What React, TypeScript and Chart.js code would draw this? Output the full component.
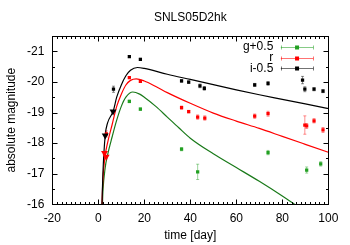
import { useEffect, useRef } from 'react';
import { Chart, registerables } from 'chart.js';

Chart.register(...registerables);

const chartTitle = 'SNLS05D2hk';
const xTitle = 'time [day]';
const yTitle = 'absolute magnitude';
const xTicks = [-20, 0, 20, 40, 60, 80, 100];
const yTicks = [-21, -20, -19, -18, -17, -16];
const legendLabels = ['g+0.5', 'r', 'i-0.5'];

// i-0.5 band (black)
const iDays = [6.6, 13.5, 18.3, 36.2, 39.3, 44.2, 46.1, 68.0, 73.8, 88.8, 89.8, 93.8, 97.7];
const iMag = [-19.76, -20.83, -20.74, -20.03, -19.99, -19.87, -19.79, -19.9, -19.95, -20.06, -19.76, -19.76, -19.7];
const iErr = [0.1, 0.03, 0.03, 0.04, 0.04, 0.06, 0.06, 0.05, 0.06, 0.12, 0.08, 0.05, 0.05];
const iLimDays = [3.0, 6.4];
const iLimMag = [-18.25, -19.03];

// r band (red)
const rDays = [3.5, 13.5, 18.3, 36.2, 39.3, 43.2, 46.3, 68.0, 73.8, 89.8, 90.6, 93.8, 97.7];
const rMag = [-18.3, -20.14, -20.02, -19.16, -19.03, -18.85, -18.82, -18.88, -18.96, -18.59, -18.56, -18.73, -18.43];
const rErr = [0.1, 0.03, 0.03, 0.05, 0.04, 0.07, 0.07, 0.07, 0.08, 0.3, 0.08, 0.07, 0.08];
const rLimDays = [2.7, 3.4];
const rLimMag = [-17.68, -17.55];

// g+0.5 band (green)
const gDays = [13.5, 18.3, 36.2, 43.2, 73.8, 90.6, 96.7];
const gMag = [-19.36, -19.11, -17.8, -17.06, -17.69, -17.12, -17.32];
const gErr = [0.04, 0.04, 0.05, 0.25, 0.07, 0.1, 0.07];

// model curves
const iModelDays = [1.6, 2.0, 3.0, 4.0, 6.5, 8, 10, 12, 14, 17, 20, 30, 40, 50, 60, 70, 80, 90, 100];
const iModelMag = [-16.0, -17.0, -18.25, -18.65, -19.05, -19.5, -19.9, -20.2, -20.38, -20.47, -20.44, -20.25, -20.08, -19.91, -19.74, -19.58, -19.43, -19.28, -19.13];
const rModelDays = [1.6, 2.0, 3.0, 4.0, 6, 8, 10, 12, 14, 16.5, 20, 25, 30, 40, 50, 60, 70, 80, 90, 100];
const rModelMag = [-16.0, -16.8, -17.6, -18.0, -18.6, -19.2, -19.6, -19.9, -20.05, -20.1, -20.03, -19.85, -19.65, -19.3, -18.98, -18.72, -18.48, -18.22, -17.96, -17.7];
const gModelDays = [1.8, 2.0, 3.0, 4.0, 6, 8, 10, 12, 15, 18, 20, 25, 30, 35, 40, 50, 60, 70, 80, 85.3];
const gModelMag = [-16.0, -16.4, -17.2, -17.6, -18.2, -18.75, -19.2, -19.5, -19.67, -19.6, -19.5, -19.2, -18.85, -18.5, -18.16, -17.65, -17.2, -16.75, -16.27, -16.0];

const BLACK = '#000000';
const RED = '#ff0000';
const GREEN_PT = '#22a022';
const GREEN_LINE = '#1a7a1a';
const BLACK_ERR = 'rgba(0,0,0,0.45)';
const RED_ERR = 'rgba(255,0,0,0.45)';
const GREEN_ERR = 'rgba(34,160,34,0.45)';

const FONT = '"Liberation Sans", Arial, sans-serif';

const zip = (xs: number[], ys: number[]) => xs.map((x, i) => ({ x, y: ys[i] }));

const errorBarPlugin = {
  id: 'errbars',
  beforeDatasetsDraw(chart: any) {
    const ctx = chart.ctx;
    const ys = chart.scales.y;
    const area = chart.chartArea;
    ctx.save();
    ctx.beginPath();
    ctx.rect(area.left, area.top, area.right - area.left, area.bottom - area.top);
    ctx.clip();
    chart.data.datasets.forEach((ds: any, di: number) => {
      if (!ds.errs) return;
      const meta = chart.getDatasetMeta(di);
      ctx.strokeStyle = ds.errColor;
      ctx.lineWidth = 1;
      meta.data.forEach((pt: any, i: number) => {
        const v = ds.data[i].y;
        const e = ds.errs[i];
        const y1 = ys.getPixelForValue(v - e);
        const y2 = ys.getPixelForValue(v + e);
        ctx.beginPath();
        ctx.moveTo(pt.x, y1);
        ctx.lineTo(pt.x, y2);
        ctx.moveTo(pt.x - 1.5, y1);
        ctx.lineTo(pt.x + 1.5, y1);
        ctx.moveTo(pt.x - 1.5, y2);
        ctx.lineTo(pt.x + 1.5, y2);
        ctx.stroke();
      });
    });
    ctx.restore();
  },
};

const framePlugin = {
  id: 'frame',
  afterDraw(chart: any) {
    const ctx = chart.ctx;
    const a = chart.chartArea;
    const xs = chart.scales.x;
    const ys = chart.scales.y;
    ctx.save();
    ctx.strokeStyle = '#000';
    ctx.lineWidth = 1;
    const L = Math.round(a.left) + 0.5;
    const R = Math.round(a.right) + 0.5;
    const T = Math.round(a.top) + 0.5;
    const B = Math.round(a.bottom) + 0.5;
    ctx.strokeRect(L, T, R - L, B - T);
    ctx.beginPath();
    for (let v = xs.min; v <= xs.max + 1e-6; v += 2) {
      const px = Math.round(xs.getPixelForValue(v)) + 0.5;
      const major = Math.abs(v % 20) < 1e-6;
      const len = major ? 5 : 2.5;
      ctx.moveTo(px, B);
      ctx.lineTo(px, B - len);
      ctx.moveTo(px, T);
      ctx.lineTo(px, T + len);
    }
    for (let v = -21.5; v <= -16 + 1e-6; v += 0.5) {
      const py = Math.round(ys.getPixelForValue(v)) + 0.5;
      const major = Math.abs(v - Math.round(v)) < 1e-6;
      const len = major ? 5 : 2.5;
      ctx.moveTo(L, py);
      ctx.lineTo(L + len, py);
      ctx.moveTo(R, py);
      ctx.lineTo(R - len, py);
    }
    ctx.stroke();

    ctx.fillStyle = '#000';
    ctx.textAlign = 'center';
    ctx.textBaseline = 'middle';
    ctx.font = `12px ${FONT}`;
    ctx.fillText(chartTitle, (a.left + a.right) / 2, 18);
    ctx.fillText(xTitle, (a.left + a.right) / 2, 236);
    ctx.save();
    ctx.translate(12, (a.top + a.bottom) / 2);
    ctx.rotate(-Math.PI / 2);
    ctx.fillText(yTitle, 0, 0);
    ctx.restore();

    const entries = [
      { label: legendLabels[0], pt: GREEN_PT, err: 'rgba(34,160,34,0.55)' },
      { label: legendLabels[1], pt: RED, err: 'rgba(255,0,0,0.55)' },
      { label: legendLabels[2], pt: BLACK, err: 'rgba(0,0,0,0.55)' },
    ];
    const textRight = a.right - 55;
    const lx1 = a.right - 47.5;
    const lx2 = a.right - 15;
    const mx = (lx1 + lx2) / 2;
    entries.forEach((e, i) => {
      const yy = a.top + 10.7 + i * 10.8;
      ctx.font = `12px ${FONT}`;
      ctx.textAlign = 'right';
      ctx.fillStyle = '#000';
      ctx.fillText(e.label, textRight, yy);
      ctx.strokeStyle = e.err;
      ctx.beginPath();
      const ly = Math.round(yy) + 0.5;
      ctx.moveTo(lx1, ly);
      ctx.lineTo(lx2, ly);
      ctx.moveTo(Math.round(lx1) + 0.5, ly - 2);
      ctx.lineTo(Math.round(lx1) + 0.5, ly + 2);
      ctx.moveTo(Math.round(lx2) + 0.5, ly - 2);
      ctx.lineTo(Math.round(lx2) + 0.5, ly + 2);
      ctx.stroke();
      ctx.fillStyle = e.pt;
      ctx.fillRect(mx - 2, ly - 2, 4, 4);
    });
    ctx.restore();
  },
};

export default function App() {
  const ref = useRef<HTMLCanvasElement | null>(null);
  useEffect(() => {
    document.body.style.margin = '0';
    if (!ref.current) return;
    const pointDs = (label: string, xs: number[], ys: number[], errs: number[], color: string, errColor: string) => ({
      type: 'scatter' as const,
      label,
      data: zip(xs, ys),
      errs,
      errColor,
      pointStyle: 'rect',
      pointRadius: 2.3,
      pointBorderWidth: 0,
      backgroundColor: color,
      borderColor: color,
      showLine: false,
    });
    const limDs = (label: string, xs: number[], ys: number[], color: string) => ({
      type: 'scatter' as const,
      label,
      data: zip(xs, ys),
      pointStyle: 'triangle',
      rotation: 180,
      pointRadius: 4,
      pointBorderWidth: 0,
      backgroundColor: color,
      borderColor: color,
      showLine: false,
    });
    const lineDs = (label: string, xs: number[], ys: number[], color: string) => ({
      type: 'line' as const,
      label,
      data: zip(xs, ys),
      borderColor: color,
      borderWidth: 1.2,
      pointRadius: 0,
      cubicInterpolationMode: 'monotone',
      fill: false,
    });
    const chart = new Chart(ref.current, {
      type: 'scatter',
      data: {
        datasets: [
          limDs('i lim', iLimDays, iLimMag, BLACK),
          pointDs('i-0.5', iDays, iMag, iErr, BLACK, BLACK_ERR),
          limDs('r lim', rLimDays, rLimMag, RED),
          pointDs('r', rDays, rMag, rErr, RED, RED_ERR),
          pointDs('g+0.5', gDays, gMag, gErr, GREEN_PT, GREEN_ERR),
          lineDs('i model', iModelDays, iModelMag, BLACK),
          lineDs('r model', rModelDays, rModelMag, RED),
          lineDs('g model', gModelDays, gModelMag, GREEN_LINE),
        ] as any,
      },
      options: {
        animation: false,
        responsive: false,
        maintainAspectRatio: false,
        layout: { padding: { top: 36, right: 21.7, left: 0, bottom: 0 } },
        plugins: { legend: { display: false }, tooltip: { enabled: false }, title: { display: false } },
        scales: {
          x: {
            type: 'linear',
            min: -20,
            max: 100,
            afterBuildTicks: (s: any) => { s.ticks = xTicks.map((v) => ({ value: v })); },
            afterFit: (s: any) => { s.height = 40.7; },
            grid: { display: false, drawTicks: false },
            border: { display: false },
            ticks: { padding: 7, color: '#000', font: { family: FONT, size: 12 }, maxRotation: 0, autoSkip: false },
          },
          y: {
            type: 'linear',
            reverse: true,
            min: -21.5,
            max: -16,
            afterBuildTicks: (s: any) => { s.ticks = yTicks.map((v) => ({ value: v })); },
            afterFit: (s: any) => { s.width = 52.3; },
            grid: { display: false, drawTicks: false },
            border: { display: false },
            ticks: { padding: 8, color: '#000', font: { family: FONT, size: 12 }, autoSkip: false },
          },
        },
      },
      plugins: [errorBarPlugin, framePlugin],
    } as any);
    return () => chart.destroy();
  }, []);
  return <canvas ref={ref} width={350} height={245} style={{ display: 'block' }} />;
}
